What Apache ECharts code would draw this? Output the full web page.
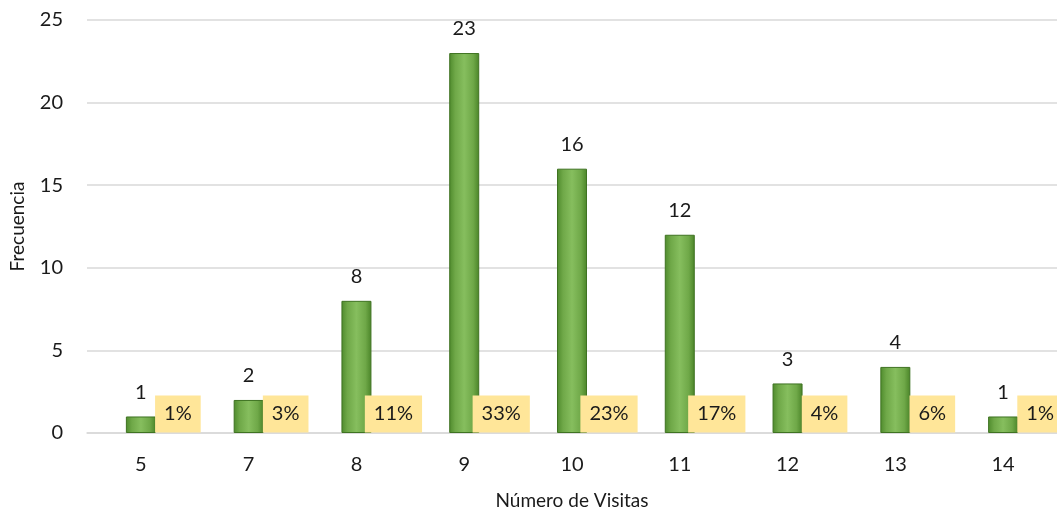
<!DOCTYPE html>
<html><head><meta charset="utf-8">
<script src="https://cdn.jsdelivr.net/npm/echarts@6/dist/echarts.min.js"></script>
<style>html,body{margin:0;padding:0;background:#fff}#c{width:1057px;height:516px}</style>
</head><body><div id="c"></div>
<script>
const categories = ['5','7','8','9','10','11','12','13','14'];
const frecuencia = [1,2,8,23,16,12,3,4,1];
const porcentajes = ['1%','3%','11%','33%','23%','17%','4%','6%','1%'];
const yTicks = {min:0, max:25, interval:5};

const FONT = 'Lato, "Open Sans", sans-serif';
const TXT = '#1a1a1a';
const chart = echarts.init(document.getElementById('c'), null, {renderer:'canvas'});
chart.setOption({
  animation:false,
  grid:{left:87, right:0, top:20, bottom:83, containLabel:false, outerBoundsMode:'none'},
  xAxis:{
    type:'category', data:categories,
    name:'Número de Visitas', nameLocation:'middle', nameGap:58,
    nameTextStyle:{fontFamily:FONT, fontSize:19, color:TXT},
    axisLine:{lineStyle:{color:'#D9D9D9', width:1.5}},
    axisTick:{show:false},
    axisLabel:{fontFamily:FONT, fontSize:20, color:TXT, margin:22}
  },
  yAxis:{
    type:'value', min:yTicks.min, max:yTicks.max, interval:yTicks.interval,
    name:'Frecuencia', nameLocation:'middle', nameGap:60, nameRotate:90,
    nameTextStyle:{fontFamily:FONT, fontSize:19, color:TXT},
    axisLine:{show:false}, axisTick:{show:false},
    axisLabel:{fontFamily:FONT, fontSize:20, color:TXT, margin:24},
    splitLine:{lineStyle:{color:'#D9D9D9', width:1.5}}
  },
  series:[
    {
      type:'bar', data:frecuencia, barWidth:30,
      itemStyle:{
        color:new echarts.graphic.LinearGradient(0,0,1,0,[
          {offset:0,color:'#4E8A2C'},{offset:0.2,color:'#6FA848'},
          {offset:0.5,color:'#86BE5E'},{offset:0.8,color:'#6FA848'},{offset:1,color:'#4A8428'}]),
        borderColor:'#3F7322', borderWidth:1
      },
      label:{show:true, position:'top', distance:14, fontFamily:FONT, fontSize:20, color:TXT},
      z:2
    },
    {
      type:'scatter', data:frecuencia.map(()=>0), symbolSize:0,
      itemStyle:{opacity:1},
      label:{
        show:true, position:'inside', offset:[37,-19],
        formatter:(p)=>porcentajes[p.dataIndex],
        backgroundColor:'#FFE699', padding:[9,9,8,9],
        fontFamily:FONT, fontSize:20, color:TXT
      },
      emphasis:{disabled:true},
      z:5
    }
  ]
});
</script></body></html>
